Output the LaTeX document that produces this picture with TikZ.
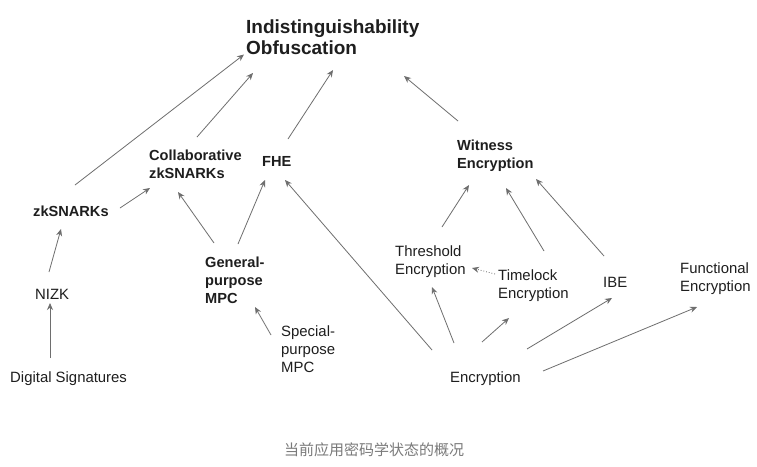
\documentclass[tikz,border=0pt]{standalone}
\usepackage{fontspec}
\setmainfont{Liberation Sans}
\newfontfamily\cjk{Noto Sans CJK SC}
\usetikzlibrary{calc,arrows.meta}
\definecolor{arrowgray}{HTML}{6E6E6E}
\definecolor{txt}{HTML}{1E1E1E}
\definecolor{capgray}{HTML}{7A7A7A}
\begin{document}
\begin{tikzpicture}[x=1pt,y=-1pt,
  lbl/.style={anchor=west,inner sep=0pt,align=left,text=txt,font=\fontsize{14.9}{17.8}\selectfont},
  blbl/.style={lbl,font=\fontsize{14.6}{17.8}\selectfont\bfseries},
  arr/.style={draw=arrowgray,line width=0.8pt,-{Stealth[length=7pt,width=6pt]}},
  dotarr/.style={arr,dotted}]
\fill[white] (0,0) rectangle (757,466);
\useasboundingbox (0,0) rectangle (757,466);
% nodes
\node[anchor=west,inner sep=0pt,align=left,text=txt,font=\fontsize{19}{21}\selectfont\bfseries] (title) at (246,37.5) {Indistinguishability\\Obfuscation};
\node[blbl] (collab) at (149,164.5) {Collaborative\\zkSNARKs};
\node[blbl] (fhe) at (262,161) {FHE};
\node[blbl] (zk) at (33,211) {zkSNARKs};
\node[blbl] (wit) at (457,155.5) {Witness\\Encryption};
\node[lbl] (nizk) at (35,294) {NIZK};
\node[blbl] (gmpc) at (205,280) {General-\\purpose\\MPC};
\node[lbl] (smpc) at (281,349) {Special-\\purpose\\MPC};
\node[lbl] (dsig) at (10,378.5) {Digital Signatures};
\node[lbl] (thr) at (395,261.5) {Threshold\\Encryption};
\node[lbl] (tl) at (498,286) {Timelock\\Encryption};
\node[lbl] (ibe) at (603,282) {IBE};
\node[lbl] (fe) at (680,278.5) {Functional\\Encryption};
\node[lbl] (enc) at (450,378.5) {Encryption};
\node[inner sep=0pt,text=capgray,font=\cjk\fontsize{15}{18}\selectfont] (cap) at (374,450) {当前应用密码学状态的概况};
% connectors
\draw[arr] ($(zk.west)+(42,-26)$) -- ($(title.west)+(-2,17)$);
\draw[arr] ($(zk.west)+(87,-3)$) -- ($(collab.west)+(1,23.5)$);
\draw[arr] ($(collab.west)+(48,-27.5)$) -- ($(title.west)+(7,35.5)$);
\draw[arr] ($(fhe.west)+(26,-22)$) -- ($(title.west)+(87,32.5)$);
\draw[arr] ($(wit.west)+(1,-34.5)$) -- ($(title.west)+(158,38.5)$);
\draw[arr] ($(nizk.west)+(14,-22)$) -- ($(zk.west)+(28,18)$);
\draw[arr] ($(dsig.west)+(40,-20.5)$) -- ($(nizk.west)+(15,9)$);
\draw[arr] ($(gmpc.west)+(9,-37)$) -- ($(collab.west)+(29,27.5)$);
\draw[arr] ($(gmpc.west)+(33,-36)$) -- ($(fhe.west)+(3,19)$);
\draw[arr] ($(smpc.west)+(-10,-14)$) -- ($(gmpc.west)+(50,27)$);
\draw[arr] ($(enc.west)+(-18,-28.5)$) -- ($(fhe.west)+(23,19)$);
\draw[arr] ($(thr.west)+(47,-34.5)$) -- ($(wit.west)+(12,29.5)$);
\draw[arr] ($(tl.west)+(46,-35)$) -- ($(wit.west)+(49,32.5)$);
\draw[arr] ($(ibe.west)+(1,-26)$) -- ($(wit.west)+(79,23.5)$);
\draw[dotarr] ($(tl.west)+(-3,-12)$) -- ($(thr.west)+(77,6.5)$);
\draw[arr] ($(enc.west)+(4,-35.5)$) -- ($(thr.west)+(37,25.5)$);
\draw[arr] ($(enc.west)+(32,-36.5)$) -- ($(tl.west)+(11,32)$);
\draw[arr] ($(enc.west)+(77,-29.5)$) -- ($(ibe.west)+(9,16)$);
\draw[arr] ($(enc.west)+(93,-7.5)$) -- ($(fe.west)+(17,28.5)$);
\end{tikzpicture}
\end{document}
